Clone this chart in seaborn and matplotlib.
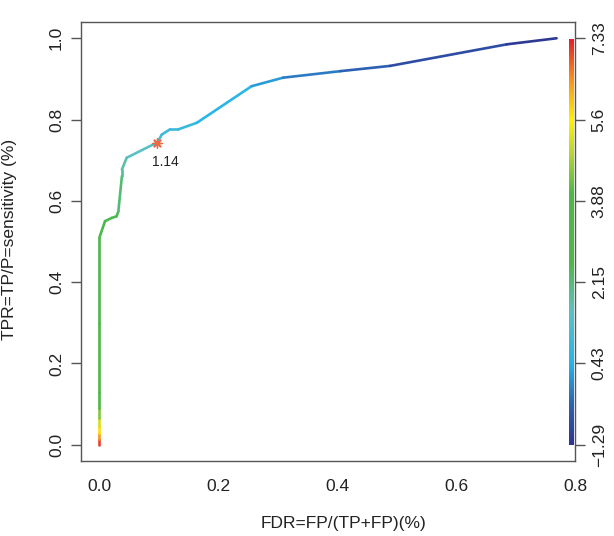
import numpy as np
import pandas as pd
import matplotlib
matplotlib.use("Agg")
import matplotlib.pyplot as plt
import seaborn as sns
from matplotlib.collections import LineCollection
from matplotlib.colors import LinearSegmentedColormap, Normalize

# ---- data ----
fdr = [0.0, 0.0, 0.0, 0.0, 0.0, 0.0, 0.0, 0.0, 0.0, 0.0096, 0.021, 0.029, 0.032,
       0.038, 0.038, 0.046, 0.091, 0.0975, 0.105, 0.119, 0.133, 0.164, 0.256,
       0.309, 0.405, 0.489, 0.685, 0.769]
tpr = [0.0, 0.015, 0.03, 0.045, 0.065, 0.09, 0.13, 0.30, 0.509, 0.550, 0.558, 0.562,
       0.574, 0.661, 0.677, 0.706, 0.739, 0.743, 0.763, 0.776, 0.776, 0.792, 0.882,
       0.903, 0.919, 0.932, 0.985, 1.0]
cutoff = [7.33, 6.8, 6.0, 5.5, 4.8, 4.2, 3.6, 3.0, 2.7, 2.6, 2.55, 2.5,
          2.45, 2.0, 1.9, 1.7, 1.25, 1.14, 1.0, 0.9, 0.85, 0.7, 0.35,
          0.0, -0.3, -0.6, -1.1, -1.29]
best_fdr = [0.0975]
best_tpr = [0.743]
best_label = ["1.14"]
cut_ticks = ["\u22121.29", "0.43", "2.15", "3.88", "5.6", "7.33"]
x_ticks = [0.0, 0.2, 0.4, 0.6, 0.8]
y_ticks = [0.0, 0.2, 0.4, 0.6, 0.8, 1.0]

df = pd.DataFrame({"fdr": fdr, "tpr": tpr, "cutoff": cutoff})

sns.set_style("white")
plt.rcParams["font.family"] = ["Liberation Sans", "DejaVu Sans"]

cmap = LinearSegmentedColormap.from_list(
    "roc",
    [(0.0, "#2e3592"), (0.1, "#2c63b4"), (0.2, "#27b4ea"), (0.33, "#5cc2c0"),
     (0.45, "#4db84a"), (0.62, "#4db848"), (0.72, "#b9d532"), (0.8, "#fff200"),
     (0.9, "#f7941d"), (1.0, "#e3202a")])
norm = Normalize(vmin=-1.29, vmax=7.33)

W, H = 614, 536
fig = plt.figure(figsize=(W / 100, H / 100), dpi=100)
L, R, T, B = 80.7, 575, 22, 461
ax = fig.add_axes([L / W, 1 - B / H, (R - L) / W, (B - T) / H])

pts = df[["fdr", "tpr"]].to_numpy()
segs = np.stack([pts[:-1], pts[1:]], axis=1)
segc = (df["cutoff"].to_numpy()[:-1] + df["cutoff"].to_numpy()[1:]) / 2
lc = LineCollection(segs, colors=cmap(norm(segc)), linewidths=1.9,
                    capstyle="round", joinstyle="round")
ax.add_collection(lc)

sns.scatterplot(x=best_fdr, y=best_tpr, ax=ax, marker=(8, 2, 0), s=45,
                color="#ee6a43", linewidth=1.0, edgecolor="#ee6a43", zorder=5)
ax.annotate(best_label[0], (best_fdr[0], best_tpr[0]), xytext=(6, -17),
            textcoords="offset points", ha="center", fontsize=10, color="#222222")

ax.set_xlim(-0.0313, 0.8)
ax.set_ylim(-0.04, 1.04)
ax.set_xticks(x_ticks)
ax.set_xticklabels([f"{v:.1f}" for v in x_ticks])
ax.set_yticks(y_ticks)
ax.set_yticklabels([f"{v:.1f}" for v in y_ticks], rotation=90, va="center")
for s in ax.spines.values():
    s.set_color("#555555")
    s.set_linewidth(1.0)
ax.tick_params(axis="both", direction="out", length=7, width=1, color="#555555",
               labelsize=12.5, labelcolor="#222222", pad=6)
ax.tick_params(axis="y", pad=5)
ax.set_xlabel("FDR=FP/(TP+FP)(%)", fontsize=12.5, color="#222222")
ax.set_ylabel("TPR=TP/P=sensitivity (%)", fontsize=12.5, color="#222222")
ax.xaxis.set_label_coords(0.531, -0.125)
ax.yaxis.set_label_coords(-0.128, 0.505)

ax2 = ax.twinx()
ax2.set_ylim(ax.get_ylim())
ax2.set_yticks(y_ticks)
ax2.set_yticklabels(cut_ticks, rotation=90, va="center")
ax2.tick_params(axis="y", direction="out", length=7, width=1, color="#555555",
                labelsize=12.5, labelcolor="#222222", pad=5)
for s in ax2.spines.values():
    s.set_visible(False)

# colour bar drawn inside the right edge
cax = fig.add_axes([569 / W, 1 - 445 / H, 5 / W, (445 - 39) / H])
grad = np.linspace(0, 1, 256).reshape(-1, 1)
cax.imshow(grad, aspect="auto", cmap=cmap, origin="lower")
cax.set_axis_off()

fig.savefig("out.png", dpi=100)
